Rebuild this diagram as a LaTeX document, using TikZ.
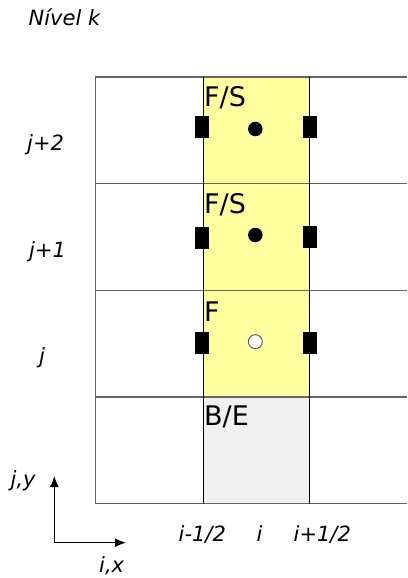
\documentclass[tikz,border=0pt]{standalone}
\usepackage{fontspec}
\setmainfont{DejaVu Sans}
\usetikzlibrary{arrows.meta}
\definecolor{cellyellow}{RGB}{255,255,160}
\definecolor{cellgray}{RGB}{240,240,240}
\definecolor{gridgray}{RGB}{100,100,100}
\begin{document}
\begin{tikzpicture}[x=1pt,y=-1pt,
  gridline/.style={draw=gridgray, line width=1.5pt},
  colline/.style={draw=black, line width=1pt},
  facebox/.style={rectangle, fill=black, draw=none, minimum width=14pt, minimum height=22pt, inner sep=0pt},
  fulldot/.style={circle, fill=black, draw=none, minimum size=14.5pt, inner sep=0pt},
  emptydot/.style={circle, fill=white, draw=gridgray, line width=1pt, minimum size=14pt, inner sep=0pt},
  celltext/.style={font=\fontsize{27}{27}\selectfont, anchor=base west, inner sep=0pt},
  lab/.style={font=\fontsize{21}{21}\selectfont\itshape, anchor=base west, inner sep=0pt},
  axisarrow/.style={line width=1.2pt, -{Latex[length=11pt,width=9pt]}}]
\useasboundingbox (0,0) rectangle (407,578);
% cell fills
\fill[cellyellow] (203,77) rectangle (309,397);
\fill[cellgray] (203,397) rectangle (309,503.6);
% grid
\draw[gridline] (407,77) -- (95.5,77) -- (95.5,503.6) -- (407,503.6);
\draw[gridline] (95.5,183.6) -- (407,183.6);
\draw[gridline] (95.5,290.3) -- (407,290.3);
\draw[gridline] (95.5,397) -- (407,397);
\draw[colline] (203,77) -- (203,503.6);
\draw[colline] (309,77) -- (309,503.6);
% cell labels
\node[celltext] (t1) at (204,106.7) {F/S};
\node[celltext] (t2) at (204,213.3) {F/S};
\node[celltext] (t3) at (204,321.7) {F};
\node[celltext] (t4) at (204,425) {B/E};
% faces and centres
\node[facebox] (f1l) at (202.3,127) {};
\node[facebox] (f1r) at (309.7,127) {};
\node[facebox] (f2l) at (202.3,238) {};
\node[facebox] (f2r) at (309.7,236.7) {};
\node[facebox] (f3l) at (202.3,343) {};
\node[facebox] (f3r) at (309.7,342.5) {};
\node[fulldot] (c1) at (255.3,129) {};
\node[fulldot] (c2) at (255.3,235) {};
\node[emptydot] (c3) at (255.3,341.7) {};
% labels
\node[lab] (lk) at (28.5,26) {Nível k};
\node[lab] (lj2) at (27,150.7) {j+2};
\node[lab] (lj1) at (29,257.7) {j+1};
\node[lab] (lj) at (39,363.7) {j};
\node[lab] (lim) at (178.5,541.7) {i-1/2};
\node[lab] (li) at (256.5,541.7) {i};
\node[lab] (lip) at (293.5,541.7) {i+1/2};
\node[lab] (ljy) at (10.5,486.7) {j,y};
\node[lab] (lix) at (99,572.5) {i,x};
% axes
\coordinate (o) at (54.3,542.7);
\coordinate (ay) at (54.3,476);
\coordinate (ax) at (126,542.7);
\draw[axisarrow] (o) -- (ay);
\draw[axisarrow] (o) -- (ax);
\end{tikzpicture}
\end{document}
